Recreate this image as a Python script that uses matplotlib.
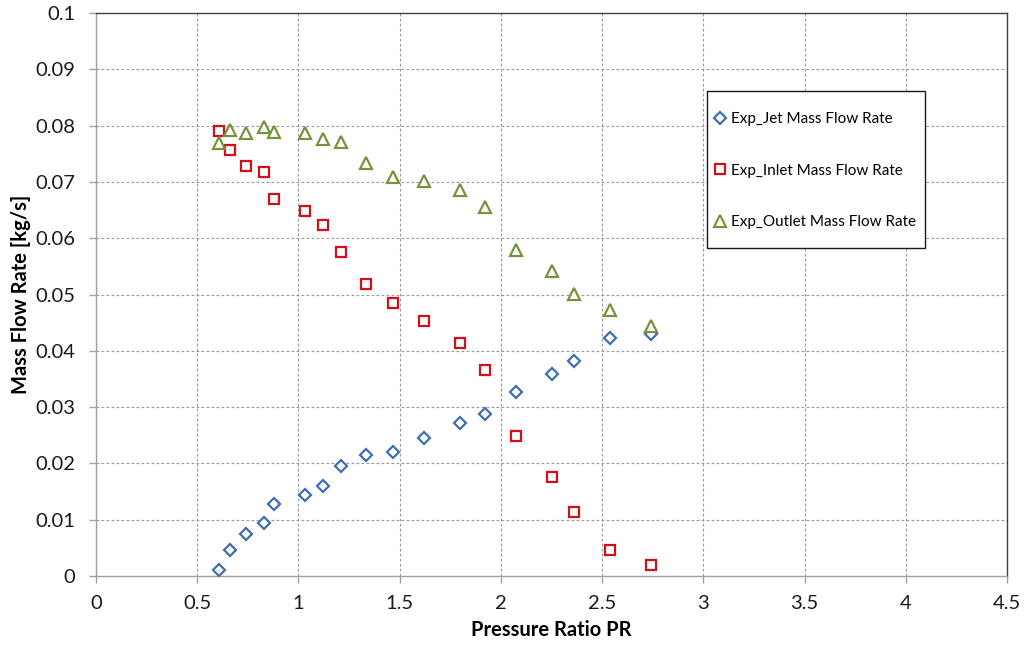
import numpy as np
import matplotlib.pyplot as plt
from matplotlib.patches import Rectangle
from matplotlib.ticker import FuncFormatter

# -------------------- Data --------------------
pressure_ratio = [0.610, 0.660, 0.741, 0.829, 0.880, 1.033, 1.120, 1.211, 1.335,
                  1.468, 1.618, 1.796, 1.923, 2.075, 2.252, 2.359, 2.541, 2.742]

jet_flow = [0.0011, 0.0046, 0.0075, 0.0094, 0.0128, 0.0143, 0.0159, 0.0195, 0.0215,
            0.0220, 0.0245, 0.0272, 0.0288, 0.0327, 0.0358, 0.0381, 0.0423, 0.0429]

inlet_flow = [0.0790, 0.0757, 0.0728, 0.0718, 0.0670, 0.0648, 0.0623, 0.0576, 0.0519,
              0.0485, 0.0453, 0.0414, 0.0366, 0.0249, 0.0176, 0.0114, 0.0046, 0.0020]

outlet_flow = [0.0769, 0.0792, 0.0787, 0.0798, 0.0789, 0.0787, 0.0776, 0.0770, 0.0733,
               0.0709, 0.0701, 0.0686, 0.0655, 0.0579, 0.0542, 0.0501, 0.0473, 0.0444]

labels = ["Exp_Jet Mass Flow Rate", "Exp_Inlet Mass Flow Rate", "Exp_Outlet Mass Flow Rate"]

plt.rcParams["font.family"] = ["Lato", "DejaVu Sans"]

# -------------------- Plot --------------------
fig = plt.figure(figsize=(10.28, 6.5), dpi=100)
ax = fig.add_axes([96 / 1028, 1 - 576 / 650, 911 / 1028, 563 / 650])

ax.plot(pressure_ratio, jet_flow, linestyle="none", marker="D", ms=6.3,
        mfc="white", mec="#3F6FAF", mew=1.6, label=labels[0], zorder=3)
ax.plot(pressure_ratio, inlet_flow, linestyle="none", marker="s", ms=7.2,
        mfc="white", mec="#D0101A", mew=1.6, label=labels[1], zorder=3)
ax.plot(pressure_ratio, outlet_flow, linestyle="none", marker="^", ms=8.2,
        mfc="white", mec="#77933C", mew=1.6, label=labels[2], zorder=3)

ax.set_xlim(0, 4.5)
ax.set_ylim(0, 0.1)
ax.set_xticks(np.arange(0, 4.51, 0.5))
ax.set_yticks(np.arange(0, 0.1001, 0.01))
ax.xaxis.set_major_formatter(FuncFormatter(lambda v, p: f"{v:g}"))
ax.yaxis.set_major_formatter(FuncFormatter(lambda v, p: f"{round(v, 3):g}"))

ax.grid(True, color="#9A9A9A", linestyle=(0, (2.5, 2)), linewidth=0.8)
ax.set_axisbelow(True)

for side in ["left", "bottom"]:
    ax.spines[side].set_color("#A0A0A0")
    ax.spines[side].set_linewidth(1.0)
for side in ["top", "right"]:
    ax.spines[side].set_color("#404040")
    ax.spines[side].set_linewidth(1.0)

ax.tick_params(axis="both", direction="out", length=5, width=1, color="#A0A0A0",
               labelsize=14.5, labelcolor="#1a1a1a")
ax.tick_params(axis="y", pad=10)
ax.tick_params(axis="x", pad=9)

ax.set_xlabel("Pressure Ratio PR", fontsize=14.5, fontweight="bold", va="top")
ax.set_ylabel("Mass Flow Rate [kg/s]", fontsize=14.5, fontweight="bold")
ax.xaxis.set_label_coords(0.5, -0.078)
ax.yaxis.set_label_coords(-0.071, 0.5)

# legend frame drawn separately so its padding matches the original
ax.add_patch(Rectangle(((707 - 96) / 911, (576 - 248) / 563),
                       (925 - 707) / 911, (248 - 91) / 563,
                       transform=ax.transAxes, facecolor="white",
                       edgecolor="#1a1a1a", linewidth=1.0, zorder=4))
leg = ax.legend(loc="upper left", bbox_to_anchor=((714 - 96) / 911, (576 - 112) / 563),
                frameon=False, fontsize=11, numpoints=1, borderpad=0, borderaxespad=0,
                handlelength=0.8, handletextpad=0.3, labelspacing=2.47)
leg.set_zorder(5)

fig.savefig("out.png", dpi=100)
